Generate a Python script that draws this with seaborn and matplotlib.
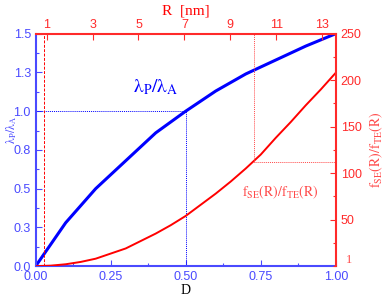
import numpy as np
import pandas as pd
import matplotlib
matplotlib.use('Agg')
import matplotlib.pyplot as plt
import seaborn as sns
from matplotlib.ticker import MultipleLocator, FixedLocator

sns.set_style('ticks')
plt.rcParams['font.family'] = ['Liberation Sans', 'DejaVu Sans']
plt.rcParams['mathtext.fontset'] = 'stix'

# data
d_vals = [0.0, 0.1, 0.2, 0.3, 0.4, 0.5, 0.6, 0.7, 0.8, 0.9, 1.0]
lambda_ratio = [0.0, 0.28, 0.50, 0.68, 0.86, 1.0, 1.13, 1.24, 1.33, 1.42, 1.50]
d_fine = [0.0, 0.05, 0.1, 0.15, 0.2, 0.25, 0.3, 0.35, 0.4, 0.45, 0.5,
          0.55, 0.6, 0.65, 0.7, 0.75, 0.8, 0.85, 0.9, 0.95, 1.0]
f_ratio = [0.0, 0.5, 2, 4.5, 8, 13.5, 19, 27, 35, 44, 54,
           66, 78, 91, 105, 120, 138, 155, 173, 190, 208]
r_ticks = [1, 3, 5, 7, 9, 11, 13]
left_ticks = [0.0, 0.25, 0.5, 0.75, 1.0, 1.25, 1.5]
left_labels = ['0.0', '0.3', '0.5', '0.8', '1.0', '1.3', '1.5']
right_ticks = [50, 100, 150, 200, 250]

df = pd.DataFrame({'D': d_vals, 'lam': lambda_ratio})
df_f = pd.DataFrame({'D': d_fine, 'f': f_ratio})

blue = '#0000ff'
blue_ax = '#4a4aff'
red = '#ff0000'
red_ax = '#ff2a2a'
red_txt = '#ff4a4a'

fig = plt.figure(figsize=(3.85, 2.98), dpi=100)
ax = fig.add_axes([0.0927, 0.107, 0.7795, 0.78])
ax2 = ax.twinx()
ax3 = ax.twiny()

# blue curve
sns.lineplot(data=df, x='D', y='lam', ax=ax, color=blue, linewidth=2.2)
ax.set_xlim(0, 1)
ax.set_ylim(0, 1.5)
ax.plot([0, 0.5], [1.0, 1.0], color=blue, lw=0.7, ls=(0, (1, 1)))
ax.plot([0.5, 0.5], [0, 1.0], color=blue, lw=0.7, ls=(0, (1, 1)))
ax.axvline(0.029, color=red, lw=0.7, ls=(0, (3, 1.5)))

# red curve
sns.lineplot(data=df_f, x='D', y='f', ax=ax2, color=red, linewidth=1.4)
ax2.set_ylim(0, 250)
ax2.plot([0.728, 0.728], [111.6, 250], color=red_txt, lw=0.7, ls=(0, (1, 1)))
ax2.plot([0.728, 1.0], [111.6, 111.6], color=red_txt, lw=0.7, ls=(0, (1, 1)))

ax3.set_xlim(0.52, 13.6)

# ticks
ax.xaxis.set_major_locator(FixedLocator([0, 0.25, 0.5, 0.75, 1.0]))
ax.xaxis.set_minor_locator(MultipleLocator(0.125))
ax.set_xticklabels(['0.00', '0.25', '0.50', '0.75', '1.00'])
ax.yaxis.set_major_locator(FixedLocator(left_ticks))
ax.yaxis.set_minor_locator(MultipleLocator(0.125))
ax.set_yticklabels(left_labels)
ax.tick_params(axis='both', which='both', direction='in', colors=blue_ax,
               labelsize=9, top=False, right=False)
ax.tick_params(which='major', length=4, width=0.8)
ax.tick_params(which='minor', length=2.5, width=0.8)

ax2.yaxis.set_major_locator(FixedLocator(right_ticks))
ax2.yaxis.set_minor_locator(MultipleLocator(25))
ax2.tick_params(axis='y', which='both', direction='in', colors=red_ax, labelsize=9)
ax2.tick_params(which='major', length=4, width=0.8)
ax2.tick_params(which='minor', length=2.5, width=0.8)

ax3.xaxis.set_major_locator(FixedLocator(r_ticks))
ax3.tick_params(axis='x', which='both', direction='in', colors=red_ax, labelsize=9,
                length=4, width=0.8, pad=2)

# spines
for a in (ax, ax2, ax3):
    a.spines['left'].set_color(blue_ax)
    a.spines['bottom'].set_color(blue_ax)
    a.spines['top'].set_color(red_ax)
    a.spines['right'].set_color(red_ax)
    for s in a.spines.values():
        s.set_linewidth(1.5)
ax.spines['top'].set_visible(False)
ax.spines['right'].set_visible(False)
ax2.spines['left'].set_visible(False)
ax2.spines['bottom'].set_visible(False)
ax2.spines['top'].set_visible(False)
ax3.spines['left'].set_visible(False)
ax3.spines['bottom'].set_visible(False)
ax3.spines['right'].set_visible(False)

# labels
serif = ['Liberation Serif', 'DejaVu Serif']
lam_txt = r'$\mathrm{\lambda_{P}/\lambda_{A}}$'
f_txt = r'$\mathrm{f_{SE}(R)/f_{TE}(R)}$'
ax.set_xlabel('D', family=serif, fontsize=10, color='black', labelpad=1)
ax.set_ylabel(lam_txt, fontsize=8.5, color=blue_ax)
ax.yaxis.set_label_coords(-0.057, 0.585)
ax2.set_ylabel(f_txt, fontsize=10, color=red_txt, labelpad=4)
ax3.set_xlabel('R  [nm]', family=serif, fontsize=11, color=red, labelpad=3)

ax.text(0.324, 1.12, lam_txt, fontsize=14, color=blue)
ax2.text(0.687, 75, f_txt, fontsize=10, color=red_txt)
ax2.text(1.035, 0.015, '1', transform=ax2.transAxes, family=serif, fontsize=9, color=red_txt)

fig.savefig('out.png', dpi=100)
